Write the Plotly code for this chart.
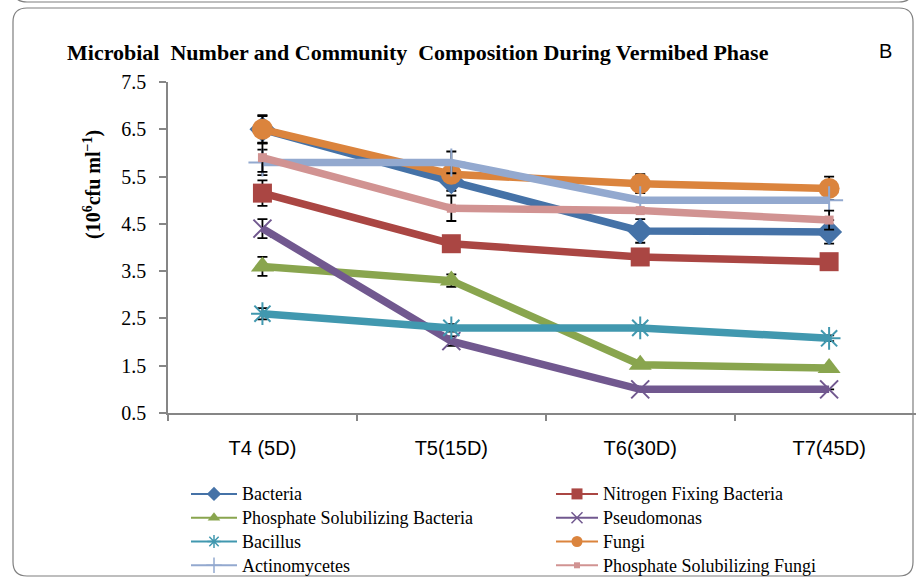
import plotly.graph_objects as go

# Sampling stages of the vermibed phase
stages = ["T4 (5D)", "T5(15D)", "T6(30D)", "T7(45D)"]

# Mean counts (10^6 cfu/ml) per microbial group
bacteria = [6.5, 5.4, 4.35, 4.33]
nitrogen_fixing = [5.15, 4.08, 3.8, 3.7]
psb = [3.6, 3.3, 1.52, 1.45]
pseudomonas = [4.4, 2.02, 1.0, 1.0]
bacillus = [2.6, 2.3, 2.3, 2.08]
fungi = [6.5, 5.55, 5.35, 5.25]
actinomycetes = [5.8, 5.8, 5.0, 5.0]
psf = [5.9, 4.83, 4.78, 4.58]

# Standard errors
bacteria_err = [0.3, 0.2, 0.25, 0.25]
nitrogen_fixing_err = [0.27, 0.0, 0.0, 0.0]
psb_err = [0.2, 0.13, 0.0, 0.0]
pseudomonas_err = [0.2, 0.1, 0.0, 0.0]
bacillus_err = [0.12, 0.08, 0.06, 0.06]
fungi_err = [0.28, 0.0, 0.2, 0.25]
actinomycetes_err = [0.27, 0.23, 0.0, 0.0]
psf_err = [0.3, 0.27, 0.0, 0.2]

y_ticks = [0.5, 1.5, 2.5, 3.5, 4.5, 5.5, 6.5, 7.5]

W, H = 916, 579
L, R, T, B = 168, 0, 82, 166
PW, PH = W - L - R, H - T - B


def pxx(x):
    return (x - L) / PW


def pxy(y):
    return (H - B - y) / PH


series = [
    # name, values, errors, color, symbol, size, open-line width, legend column
    ("Bacteria", bacteria, bacteria_err, "#4572A7", "diamond", 20, 0, "legend"),
    ("Nitrogen Fixing Bacteria", nitrogen_fixing, nitrogen_fixing_err, "#AA4643", "square", 19, 0, "legend2"),
    ("Phosphate Solubilizing Bacteria", psb, psb_err, "#89A54E", "triangle-up", 20, 0, "legend"),
    ("Pseudomonas", pseudomonas, pseudomonas_err, "#71588F", "x-thin-open", 18, 2, "legend2"),
    ("Bacillus", bacillus, bacillus_err, "#4198AF", "asterisk-open", 19, 2, "legend"),
    ("Fungi", fungi, fungi_err, "#DB843D", "circle", 21, 0, "legend2"),
    ("Actinomycetes", actinomycetes, actinomycetes_err, "#93A9CF", "cross-thin-open", 20, 2, "legend"),
    ("Phosphate Solubilizing Fungi", psf, psf_err, "#D19392", "square", 9, 0, "legend2"),
]

fig = go.Figure()

for name, vals, errs, color, symbol, size, olw, leg in series:
    marker = dict(symbol=symbol, size=size, color=color)
    if olw:
        marker["line"] = dict(color=color, width=olw)
    fig.add_trace(go.Scatter(
        x=stages, y=vals, name=name, mode="lines+markers",
        line=dict(color=color, width=7.5),
        marker=marker,
        error_y=dict(type="data", array=errs, visible=True,
                     color="black", thickness=1.8, width=5),
        showlegend=False,
    ))

# Legend entries drawn with thin lines and small markers
for name, vals, errs, color, symbol, size, olw, leg in series:
    marker = dict(symbol=symbol, size=11 if size > 9 else 6, color=color)
    if olw:
        marker["line"] = dict(color=color, width=1.5)
    fig.add_trace(go.Scatter(
        x=[None], y=[None], name=f'<span style="font-size:18px">{name}</span>',
        mode="lines+markers",
        line=dict(color=color, width=2), marker=marker,
        legend=leg, showlegend=True,
    ))

axis_col = "#868686"
legend_font = dict(family="Liberation Serif, Times New Roman", size=16, color="#000")

fig.update_layout(
    width=W, height=H,
    margin=dict(l=L, r=R, t=T, b=B, autoexpand=False),
    paper_bgcolor="white", plot_bgcolor="white",
    xaxis=dict(
        type="category", categoryorder="array", categoryarray=stages,
        range=[-0.5, 3.46], tickson="boundaries",
        showline=True, linecolor=axis_col, linewidth=1.5,
        ticks="outside", ticklen=6, tickcolor=axis_col, tickwidth=1.5,
        showgrid=False, zeroline=False,
        tickfont=dict(family="Liberation Sans Narrow, Liberation Sans, Arial", size=20, color="#000"),
        ticklabelstandoff=16,
    ),
    yaxis=dict(
        range=[0.5, 7.5], tickvals=y_ticks, ticktext=[f"{v:.1f}" for v in y_ticks],
        showline=True, linecolor=axis_col, linewidth=1.5,
        ticks="outside", ticklen=7, tickcolor=axis_col, tickwidth=1.5,
        showgrid=False, zeroline=False,
        tickfont=dict(family="Liberation Serif, Times New Roman", size=20, color="#000"),
        ticklabelstandoff=9,
    ),
    legend=dict(
        x=pxx(186), y=1 - 477 / H, yref="container", xanchor="left", yanchor="top",
        orientation="v", bgcolor="rgba(0,0,0,0)", itemwidth=46,
        font=legend_font, tracegroupgap=0,
    ),
    legend2=dict(
        x=pxx(551), y=1 - 477 / H, yref="container", xanchor="left", yanchor="top",
        orientation="v", bgcolor="rgba(0,0,0,0)", itemwidth=42,
        font=legend_font, tracegroupgap=0,
    ),
    annotations=[
        dict(text="<b>Microbial  Number and Community  Composition During Vermibed Phase</b>",
             xref="paper", yref="paper", x=pxx(418), y=pxy(52),
             xanchor="center", yanchor="middle", showarrow=False,
             font=dict(family="Liberation Serif, Times New Roman", size=22, color="#000")),
        dict(text="B", xref="paper", yref="paper", x=pxx(885), y=pxy(51),
             xanchor="center", yanchor="middle", showarrow=False,
             font=dict(family="Liberation Sans, Arial", size=20, color="#000")),
        dict(text="<b>(10<sup>6</sup>cfu ml<sup>\u22121</sup>)</b>", textangle=-90,
             xref="paper", yref="paper", x=pxx(92), y=pxy(185),
             xanchor="center", yanchor="middle", showarrow=False,
             font=dict(family="Liberation Serif, Times New Roman", size=20, color="#000")),
    ],
)

# Rounded chart frame and the lower edge of the panel above it
x0, y0, x1, y1, r = 13, 8, 913, 576, 14
frame = (f"M {pxx(x0)},{pxy(y0 + r)} Q {pxx(x0)},{pxy(y0)} {pxx(x0 + r)},{pxy(y0)} "
         f"L {pxx(x1 - r)},{pxy(y0)} Q {pxx(x1)},{pxy(y0)} {pxx(x1)},{pxy(y0 + r)} "
         f"L {pxx(x1)},{pxy(y1 - r)} Q {pxx(x1)},{pxy(y1)} {pxx(x1 - r)},{pxy(y1)} "
         f"L {pxx(x0 + r)},{pxy(y1)} Q {pxx(x0)},{pxy(y1)} {pxx(x0)},{pxy(y1 - r)} Z")
upper = (f"M {pxx(x0)},{pxy(-12)} Q {pxx(x0)},{pxy(2)} {pxx(x0 + r)},{pxy(2)} "
         f"L {pxx(x1 - r)},{pxy(2)} Q {pxx(x1)},{pxy(2)} {pxx(x1)},{pxy(-12)}")
fig.add_shape(type="path", path=frame, xref="paper", yref="paper",
              line=dict(color="#7f7f7f", width=1.2), layer="below")
fig.add_shape(type="path", path=upper, xref="paper", yref="paper",
              line=dict(color="#7f7f7f", width=1.2), layer="below")

fig.write_html("out.html")
